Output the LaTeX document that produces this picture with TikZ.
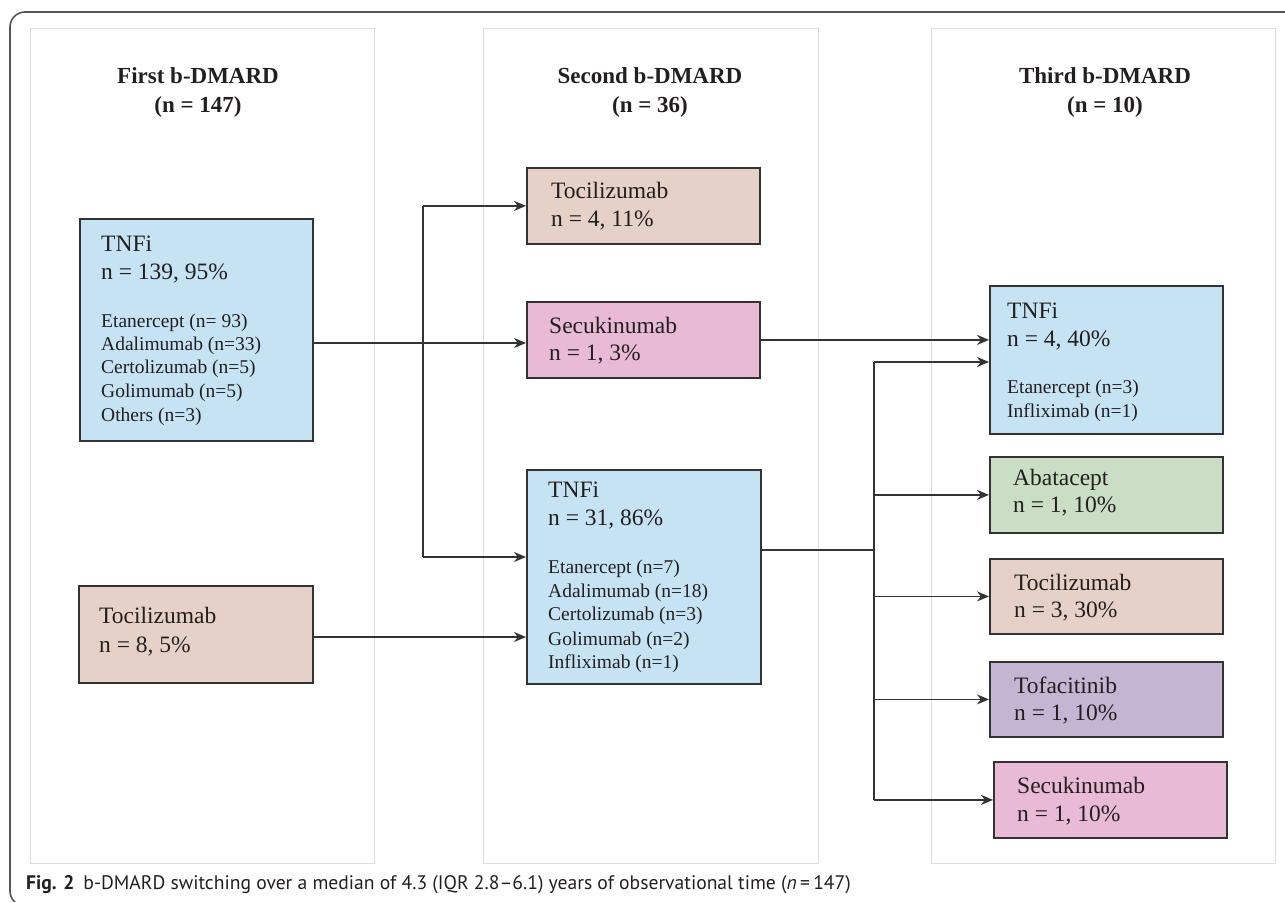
\documentclass[tikz,border=0pt]{standalone}
\usepackage{fontspec}
\setmainfont{Liberation Serif}
\newfontfamily\capfont[Ligatures=TeX]{PT Sans}
\usetikzlibrary{arrows.meta,calc}
\definecolor{tnf}{HTML}{C6E3F4}
\definecolor{toc}{HTML}{E5D1C7}
\definecolor{sec}{HTML}{E8BAD6}
\definecolor{aba}{HTML}{C9DEC4}
\definecolor{tof}{HTML}{C4B5D3}
\definecolor{ink}{HTML}{231F20}
\definecolor{edge}{HTML}{333333}
\definecolor{colline}{HTML}{DDDDDD}
\definecolor{frame}{HTML}{555555}
\begin{document}
\begin{tikzpicture}[x=1pt,y=-1pt,
  box/.style={draw=edge,line width=1.8pt,rectangle,inner sep=0,anchor=north west},
  big/.style={inner sep=0,anchor=base west,text=ink,font=\fontsize{23.5}{28}\selectfont},
  small/.style={inner sep=0,anchor=base west,text=ink,font=\fontsize{19.5}{23}\selectfont},
  head/.style={inner sep=0,anchor=base,text=ink,font=\fontsize{23}{27}\selectfont\bfseries},
  colbox/.style={draw=colline,line width=1pt},
  ln/.style={draw=edge,line width=1.6pt},
  arr/.style={draw=edge,line width=1.6pt,-{Stealth[length=12pt,width=10pt]}}]
\useasboundingbox (0,0) rectangle (1285,902);
% outer frame
\draw[frame,line width=1.6pt,rounded corners=15pt] (1290,12) -- (10,12) -- (10,906) -- (60,906);
% column panels
\draw[colbox] (30,28) rectangle (374,863);
\draw[colbox] (483,28) rectangle (818,863);
\draw[colbox] (931,28) rectangle (1275,863);
% headers
\node[head] (h1a) at (198,83) {First b-DMARD};
\node[head] (h1b) at (198,112) {(n = 147)};
\node[head] (h2a) at (650,83) {Second b-DMARD};
\node[head] (h2b) at (650,112) {(n = 36)};
\node[head] (h3a) at (1105,83) {Third b-DMARD};
\node[head] (h3b) at (1105,112) {(n = 10)};
% first column
\node[box,fill=tnf,minimum width=233pt,minimum height=222pt] (tnfA) at (79,218) {};
\node[big] (tnfA1) at (101,251) {TNFi};
\node[big] (tnfA2) at (101,279) {n = 139, 95\%};
\node[small] (tnfA3) at (101,327) {Etanercept (n= 93)};
\node[small] (tnfA4) at (101,350) {Adalimumab (n=33)};
\node[small] (tnfA5) at (101,373) {Certolizumab (n=5)};
\node[small] (tnfA6) at (101,397) {Golimumab (n=5)};
\node[small] (tnfA7) at (101,421) {Others (n=3)};
\node[box,fill=toc,minimum width=234pt,minimum height=97pt] (tocA) at (78,585) {};
\node[big] (tocA1) at (99,623) {Tocilizumab};
\node[big] (tocA2) at (99,652) {n = 8, 5\%};
% second column
\node[box,fill=toc,minimum width=233pt,minimum height=76pt] (tocB) at (526,167) {};
\node[big] (tocB1) at (551,198) {Tocilizumab};
\node[big] (tocB2) at (551,226) {n = 4, 11\%};
\node[box,fill=sec,minimum width=233pt,minimum height=76pt] (secB) at (526,301) {};
\node[big] (secB1) at (549,333) {Secukinumab};
\node[big] (secB2) at (549,360) {n = 1, 3\%};
\node[box,fill=tnf,minimum width=234pt,minimum height=214pt] (tnfB) at (526,469) {};
\node[big] (tnfB1) at (548,497) {TNFi};
\node[big] (tnfB2) at (548,525) {n = 31, 86\%};
\node[small] (tnfB3) at (548,573) {Etanercept (n=7)};
\node[small] (tnfB4) at (548,597) {Adalimumab (n=18)};
\node[small] (tnfB5) at (548,620) {Certolizumab (n=3)};
\node[small] (tnfB6) at (548,645) {Golimumab (n=2)};
\node[small] (tnfB7) at (548,668) {Infliximab (n=1)};
% third column
\node[box,fill=tnf,minimum width=233pt,minimum height=148pt] (tnfC) at (989,285) {};
\node[big] (tnfC1) at (1007,318) {TNFi};
\node[big] (tnfC2) at (1007,346) {n = 4, 40\%};
\node[small] (tnfC3) at (1007,393) {Etanercept (n=3)};
\node[small] (tnfC4) at (1007,417) {Infliximab (n=1)};
\node[box,fill=aba,minimum width=233pt,minimum height=76pt] (abaC) at (989,456) {};
\node[big] (abaC1) at (1013,485) {Abatacept};
\node[big] (abaC2) at (1013,512) {n = 1, 10\%};
\node[box,fill=toc,minimum width=233pt,minimum height=75pt] (tocC) at (989,558) {};
\node[big] (tocC1) at (1014,590) {Tocilizumab};
\node[big] (tocC2) at (1014,617) {n = 3, 30\%};
\node[box,fill=tof,minimum width=233pt,minimum height=75pt] (tofC) at (989,661) {};
\node[big] (tofC1) at (1014,693) {Tofacitinib};
\node[big] (tofC2) at (1014,720) {n = 1, 10\%};
\node[box,fill=sec,minimum width=233pt,minimum height=76pt] (secC) at (993,761) {};
\node[big] (secC1) at (1017,793) {Secukinumab};
\node[big] (secC2) at (1017,821) {n = 1, 10\%};
% connectors
\coordinate (jA) at (423,343);
\coordinate (jB) at (423,557);
\coordinate (jC) at (423,637);
\coordinate (jD) at (874,550);
\coordinate (jE) at (874,362);
\draw[arr] (tnfA.east |- jA) -- (secB.west |- jA);
\draw[ln] (jA |- tocB.west) -- (jB);
\draw[arr] (jA |- tocB.west) -- (tocB.west);
\draw[arr] (jB) -- (tnfB.west |- jB);
\draw[arr] (tocA.east |- jC) -- (tnfB.west |- jC);
\draw[arr] (secB.east) -- (tnfC.west |- secB.east);
\draw[ln] (tnfB.east |- jD) -- (jD);
\draw[ln] (jE) -- (jE |- secC.west);
\draw[arr] (jE) -- (tnfC.west |- jE);
\draw[arr] (jE |- abaC.west) -- (abaC.west);
\draw[arr] (jE |- tocC.west) -- (tocC.west);
\draw[arr] (jE |- tofC.west) -- (tofC.west);
\draw[arr] (jE |- secC.west) -- (secC.west);
% caption
\node[inner sep=0,anchor=base west,text=ink,font=\capfont\fontsize{19.6}{23}\selectfont] (cap) at (26,889) {\textbf{Fig. 2}\hspace{9pt}b-DMARD switching over a median of 4.3 (IQR 2.8–6.1) years of observational time (\textit{n}\,=\,147)};
\end{tikzpicture}
\end{document}
